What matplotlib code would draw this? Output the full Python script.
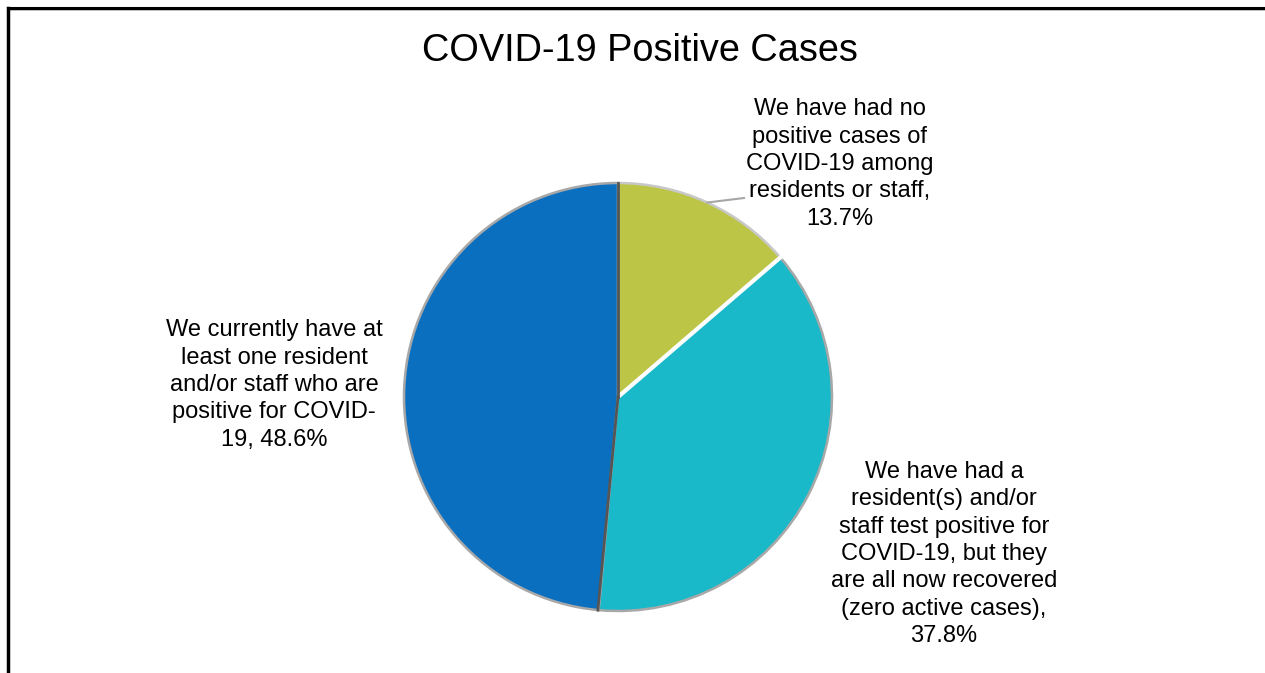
import numpy as np
import matplotlib
matplotlib.use('Agg')
import matplotlib.pyplot as plt
from matplotlib.lines import Line2D

plt.rcParams['font.family'] = ['Liberation Sans', 'DejaVu Sans']

TITLE = 'COVID-19 Positive Cases'
labels = ['We have had no\npositive cases of\nCOVID-19 among\nresidents or staff',
          'We have had a\nresident(s) and/or\nstaff test positive for\nCOVID-19, but they\nare all now recovered\n(zero active cases)',
          'We currently have at\nleast one resident\nand/or staff who are\npositive for COVID-\n19']
seps = [',\n', ',\n', ', ']
values = [13.7, 37.8, 48.6]
colors = ['#BCC545', '#1AB9C9', '#0B6FC0']

W, H = 1265, 673
fig = plt.figure(figsize=(W/100, H/100), dpi=100)
ax = fig.add_axes([0, 0, 1, 1])

# pie in pixel space (y flipped)
CX, CY, R = 618, H - 397, 214
wedges, _ = ax.pie(values, colors=colors, startangle=90, counterclock=False,
                   center=(CX, CY), radius=R, frame=True,
                   wedgeprops=dict(edgecolor='#A8A8A8', linewidth=1.8))
wedges[0].set_edgecolor('#C8C8C8')
# white gap between green and cyan, dark line on the other two borders
a = np.deg2rad(90 - values[0]*3.6)
ax.plot([CX + 3*np.cos(a), CX + R*np.cos(a)], [CY + 3*np.sin(a), CY + R*np.sin(a)],
        color='white', lw=3, zorder=5)
for ang in [90, 90 - (values[0] + values[1])*3.6]:
    a = np.deg2rad(ang)
    ax.plot([CX, CX + R*np.cos(a)], [CY, CY + R*np.sin(a)], color='#555555', lw=2, zorder=5)

ax.set_xlim(0, W)
ax.set_ylim(0, H)
ax.axis('off')

ax.text(640, H - 51, TITLE, fontsize=27.3, ha='center', va='center')

pos = [(840, H - 164), (944, H - 554), (274, H - 385)]
fs = 17
for lab, sep, v, p in zip(labels, seps, values, pos):
    ax.text(p[0], p[1], lab + sep + '%.1f%%' % v, fontsize=fs, ha='center',
            va='center', linespacing=1.32)

# leader line for the small slice
mid = np.deg2rad(90 - values[0]*3.6/2)
ax.plot([CX + R*np.cos(mid), 744], [CY + R*np.sin(mid), H - 198],
        color='#A6A6A6', lw=1.5)

# frame
fig.add_artist(Line2D([8/W, 1], [1 - 9/H, 1 - 9/H], color='#BBBBBB', lw=2))
fig.add_artist(Line2D([8/W, 1], [1 - 8/H, 1 - 8/H], color='black', lw=2.2))
fig.add_artist(Line2D([8/W, 8/W], [0, 1 - 8/H], color='black', lw=2.5))

fig.savefig('out.png', dpi=100)
